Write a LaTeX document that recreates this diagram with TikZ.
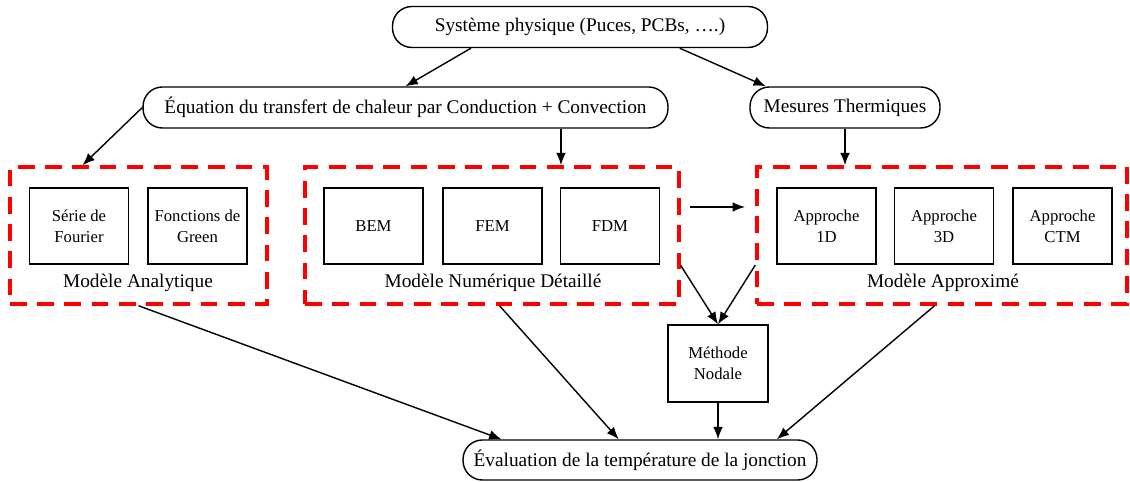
\documentclass[tikz,border=0pt]{standalone}
\usepackage{fontspec}
\setmainfont{Liberation Serif}
\usepackage{tikz}
\usetikzlibrary{arrows.meta}
\usetikzlibrary{calc}

\begin{document}
\begin{tikzpicture}[x=0.02cm, y=-0.02cm,
  pill/.style={draw, line width=0.8pt, rounded corners=11pt, minimum height=0.82cm, font=\fontsize{11}{13}\selectfont},
  redbox/.style={draw=red, line width=2pt, dash pattern=on 9.5pt off 6pt, minimum height=2.74cm},
  sbox/.style={draw, line width=0.8pt, minimum width=1.98cm, minimum height=1.52cm, align=center, font=\fontsize{9.5}{12}\selectfont},
  lbl/.style={font=\fontsize{11}{13}\selectfont},
  arr/.style={-{Latex[length=7pt,width=5.5pt]}, line width=0.8pt}]
\useasboundingbox (0,0) rectangle (1130,482);
% top row
\node[pill, minimum width=7.5cm] (sys) at (580,27) {Système physique (Puces, PCBs, ….)};
\node[pill, minimum width=10.5cm] (equ) at (405.5,107.5) {Équation du transfert de chaleur par Conduction + Convection};
\node[pill, minimum width=3.8cm] (mes) at (845,107.5) {Mesures Thermiques};
% model groups
\node[redbox, minimum width=5.14cm] (ana) at (138.5,235.5) {};
\node[redbox, minimum width=7.48cm] (num) at (492,235.5) {};
\node[redbox, minimum width=7.4cm] (app) at (942,235.5) {};
\node[sbox] (four) at (79,226) {Série de\\Fourier};
\node[sbox] (gre) at (197.5,226) {Fonctions de\\Green};
\node[sbox] (bem) at (373.5,226) {BEM};
\node[sbox] (fem) at (492.5,226) {FEM};
\node[sbox] (fdm) at (610,226) {FDM};
\node[sbox] (a1d) at (826.5,226) {Approche\\1D};
\node[sbox] (a3d) at (944,226) {Approche\\3D};
\node[sbox] (ctm) at (1062.5,226) {Approche\\CTM};
\node[lbl] (lana) at (138,283) {Modèle Analytique};
\node[lbl] (lnum) at (493,283) {Modèle Numérique Détaillé};
\node[lbl] (lapp) at (943,283) {Modèle Approximé};
% bottom
\node[sbox, minimum width=2cm, minimum height=1.54cm] (nod) at (718,363.5) {Méthode\\Nodale};
\node[pill, minimum width=7.08cm, minimum height=0.8cm] (eva) at (640,460) {Évaluation de la température de la jonction};
\coordinate (c1) at (561,0);
\coordinate (h1) at (690,207);
\coordinate (h2) at (745,207);
% arrows
\draw[arr] (sys.-169) -- (equ.north);
\draw[arr] (sys.-12) -- (mes.165);
\draw[arr] (equ.west) -- ($(ana.north west)!0.285!(ana.north east)$);
\draw[arr] (equ.south -| c1) -- (num.north -| c1);
\draw[arr] (mes.south) -- (mes.south |- app.north);
\draw[arr] (h1) -- (h2);
\draw[arr] (num.-9) -- (nod.north);
\draw[arr] (app.-171) -- (nod.north);
\draw[arr] (ana.south) -- ($(eva.north west)!0.11!(eva.north east)$);
\draw[arr] ($(num.south west)!0.52!(num.south east)$) -- ($(eva.north west)!0.44!(eva.north east)$);
\draw[arr] (nod.south) -- (nod.south |- eva.north);
\draw[arr] ($(app.south west)!0.48!(app.south east)$) -- ($(eva.north west)!0.885!(eva.north east)$);
\end{tikzpicture}
\end{document}
